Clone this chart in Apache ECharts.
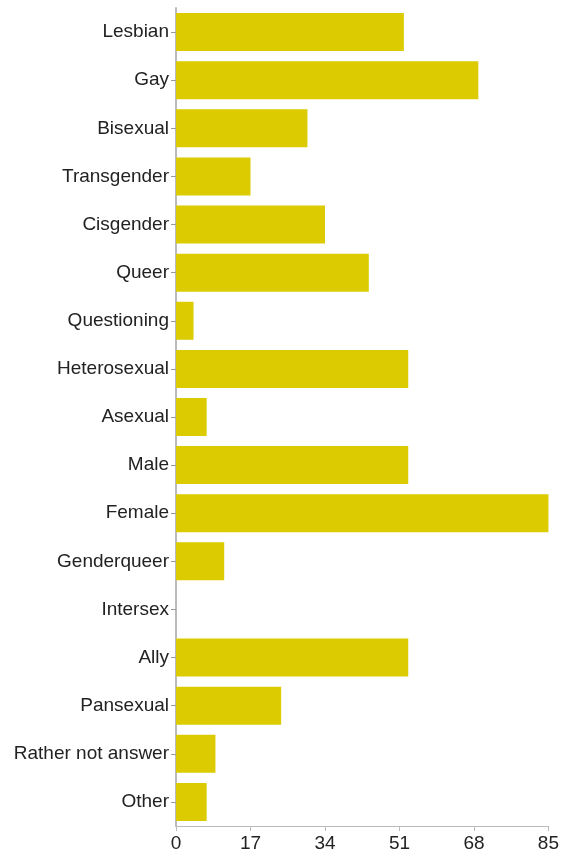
<!DOCTYPE html>
<html><head><meta charset="utf-8">
<script src="https://cdn.jsdelivr.net/npm/echarts@6/dist/echarts.min.js"></script>
<style>html,body{margin:0;padding:0;background:#fff}#c{width:562px;height:853px}</style>
</head><body><div id="c"></div>
<script>
const categories = ["Lesbian","Gay","Bisexual","Transgender","Cisgender","Queer","Questioning","Heterosexual","Asexual","Male","Female","Genderqueer","Intersex","Ally","Pansexual","Rather not answer","Other"];
const values = [52,69,30,17,34,44,4,53,7,53,85,11,0,53,24,9,7];
const xTicks = [0,17,34,51,68,85];

const chart = echarts.init(document.getElementById('c'));
chart.setOption({
  animation:false,
  grid:{left:176,right:13,top:8,bottom:27,containLabel:false},
  xAxis:{type:'value',min:0,max:85,interval:17,
    axisLine:{show:true,lineStyle:{color:'#bbb',width:1}},
    axisTick:{show:true,length:5,lineStyle:{color:'#bbb'}},
    splitLine:{show:false},
    axisLabel:{color:'#222',fontSize:19,fontFamily:'Liberation Sans, Arial, sans-serif',margin:8,
      formatter:v=>xTicks.includes(v)?String(v):''}
  },
  yAxis:{type:'category',data:categories,inverse:true,
    axisLine:{show:true,lineStyle:{color:'#bbb',width:2}},
    axisTick:{show:true,alignWithLabel:true,length:5,lineStyle:{color:'#999'}},
    axisLabel:{color:'#222',fontSize:19,fontFamily:'Liberation Sans, Arial, sans-serif',margin:7}
  },
  series:[{type:'bar',data:values,barCategoryGap:'21%',
    itemStyle:{color:'#dccb00'}}]
});
</script></body></html>
